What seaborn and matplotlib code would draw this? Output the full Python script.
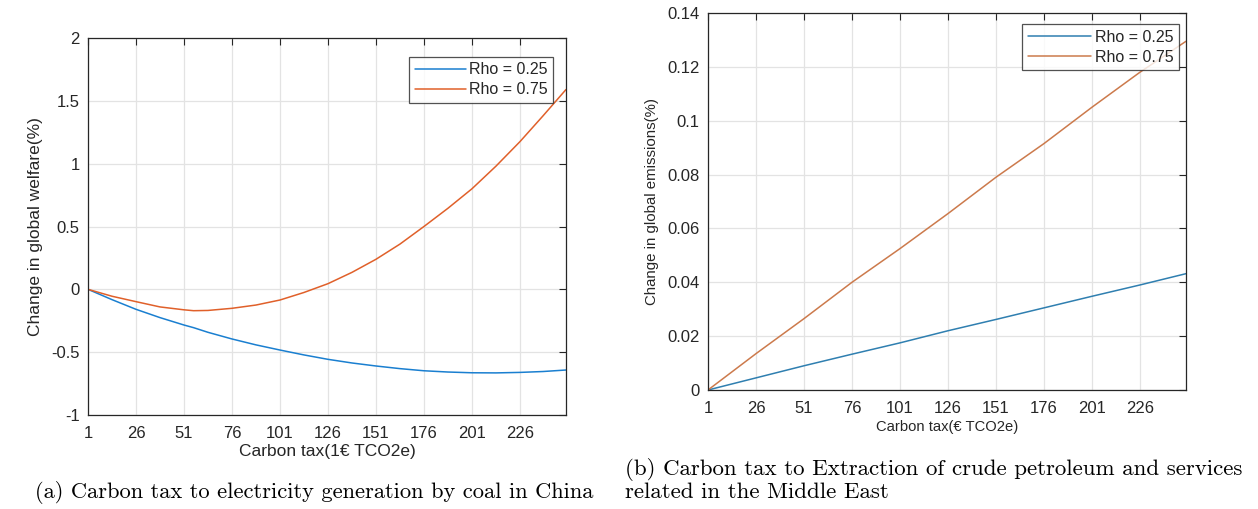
import numpy as np
import pandas as pd
import matplotlib
matplotlib.use("Agg")
import matplotlib.pyplot as plt
import seaborn as sns

# ---- data ---------------------------------------------------------------
# (a) welfare change vs carbon tax on coal power generation in China
tax_a = [1, 13.5, 26, 38.5, 51, 56, 63.5, 76, 88.5, 101, 113.5, 126, 138.5,
         151, 163.5, 176, 188.5, 201, 213.5, 226, 238, 250]
welfare_rho025 = [0, -0.082, -0.159, -0.225, -0.284, -0.305, -0.342, -0.395,
                  -0.442, -0.483, -0.522, -0.557, -0.586, -0.610, -0.631,
                  -0.648, -0.658, -0.664, -0.665, -0.661, -0.654, -0.642]
welfare_rho075 = [0, -0.055, -0.098, -0.140, -0.163, -0.170, -0.168, -0.151,
                  -0.125, -0.085, -0.025, 0.045, 0.135, 0.239, 0.360,
                  0.500, 0.645, 0.800, 0.980, 1.175, 1.380, 1.590]

# (b) emissions change vs carbon tax on crude petroleum extraction, Middle East
tax_b = [1, 26, 51, 76, 101, 126, 151, 176, 201, 226, 250]
emis_rho025 = [0, 0.0045, 0.0090, 0.0133, 0.0175, 0.0220, 0.0262, 0.0305,
               0.0348, 0.0390, 0.0432]
emis_rho075 = [0, 0.0135, 0.0265, 0.0400, 0.0525, 0.0655, 0.0790, 0.0915,
               0.1050, 0.1180, 0.1295]

series_names = ["Rho = 0.25", "Rho = 0.75"]
xticks = [1, 26, 51, 76, 101, 126, 151, 176, 201, 226]

# ---- style --------------------------------------------------------------
sns.set_style("white")
plt.rcParams["font.family"] = ["Liberation Sans", "DejaVu Sans"]
txt = "#262626"
plt.rcParams.update({
    "text.color": txt, "axes.labelcolor": txt,
    "xtick.color": txt, "ytick.color": txt,
    "axes.edgecolor": txt,
})

fig = plt.figure(figsize=(12.58, 5.09), dpi=100)
ax_a = fig.add_axes([88 / 1258, 1 - 415 / 509, (566 - 88) / 1258, (415 - 38) / 509])
ax_b = fig.add_axes([708 / 1258, 1 - 390 / 509, (1186 - 708) / 1258, (390 - 13) / 509])

df_a = pd.DataFrame({
    "tax": tax_a * 2,
    "value": welfare_rho025 + welfare_rho075,
    "series": [series_names[0]] * len(tax_a) + [series_names[1]] * len(tax_a),
})
df_b = pd.DataFrame({
    "tax": tax_b * 2,
    "value": emis_rho025 + emis_rho075,
    "series": [series_names[0]] * len(tax_b) + [series_names[1]] * len(tax_b),
})

pal_a = {series_names[0]: "#1a7fd0", series_names[1]: "#e0602a"}
pal_b = {series_names[0]: "#2f7fb0", series_names[1]: "#cc7a4c"}

sns.lineplot(data=df_a, x="tax", y="value", hue="series", palette=pal_a,
             ax=ax_a, linewidth=1.1)
sns.lineplot(data=df_b, x="tax", y="value", hue="series", palette=pal_b,
             ax=ax_b, linewidth=1.1)


def style_axes(ax, ylim, yticks, ylabels, xlabel, ylabel, xlab_size, ylab_size,
               tick_size, legend_anchor, xlabel_pad, handle_len):
    ax.set_xlim(1, 250)
    ax.set_ylim(*ylim)
    ax.set_xticks(xticks)
    ax.set_xticklabels([str(t) for t in xticks])
    ax.set_yticks(yticks)
    ax.set_yticklabels(ylabels)
    ax.grid(True, color="#e3e3e3", linewidth=0.9)
    ax.set_axisbelow(True)
    ax.tick_params(direction="in", top=True, right=True, length=5,
                   width=0.8, labelsize=tick_size, pad=6)
    ax.tick_params(axis="x", pad=8)
    for s in ax.spines.values():
        s.set_visible(True)
        s.set_linewidth(0.9)
        s.set_color(txt)
    ax.set_xlabel(xlabel, fontsize=xlab_size, labelpad=xlabel_pad)
    ax.set_ylabel(ylabel, fontsize=ylab_size, labelpad=6)
    leg = ax.legend(loc="upper right", bbox_to_anchor=legend_anchor,
                    fontsize=11.5, frameon=True, fancybox=False,
                    handlelength=handle_len, handletextpad=0.2, borderpad=0.35,
                    labelspacing=0.3, borderaxespad=0)
    leg.get_frame().set_edgecolor(txt)
    leg.get_frame().set_linewidth(0.9)
    for line in leg.get_lines():
        line.set_linewidth(1.1)


style_axes(ax_a, (-1, 2), [-1, -0.5, 0, 0.5, 1, 1.5, 2],
           ["-1", "-0.5", "0", "0.5", "1", "1.5", "2"],
           "Carbon tax(1€ TCO2e)", "Change in global welfare(%)",
           12.5, 12.5, 12, (0.973, 0.95), 2, 3.2)
style_axes(ax_b, (0, 0.14), [0, 0.02, 0.04, 0.06, 0.08, 0.1, 0.12, 0.14],
           ["0", "0.02", "0.04", "0.06", "0.08", "0.1", "0.12", "0.14"],
           "Carbon tax(€ TCO2e)", "Change in global emissions(%)",
           10.6, 10.8, 12, (0.985, 0.97), 3, 4.0)

# ---- sub-figure captions ------------------------------------------------
cap_font = dict(family="cmr10", color="black")
fig.text(35 / 1258, 1 - 492 / 509,
         "(a) Carbon tax to electricity generation by coal in China",
         ha="left", va="center", fontsize=16.2, **cap_font)
fig.text(625 / 1258, 1 - 480 / 509,
         "(b) Carbon tax to Extraction of crude petroleum and services\n"
         "related in the Middle East",
         ha="left", va="center", linespacing=1.12, fontsize=16.5, **cap_font)

fig.savefig("out.png", dpi=100)
